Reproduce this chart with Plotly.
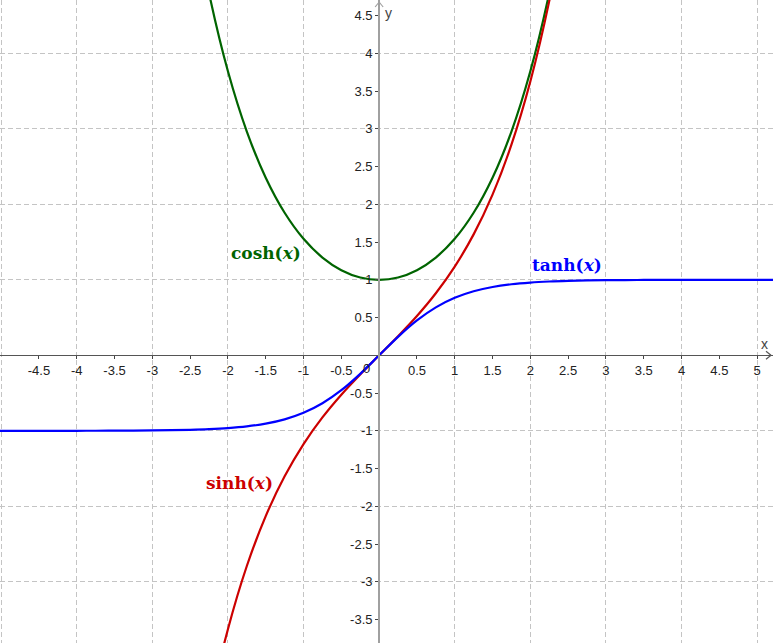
import plotly.graph_objects as go

# ---- data ----
x_cosh = [-2.5, -2.25, -2.0, -1.75, -1.5, -1.25, -1.0, -0.75, -0.5, -0.25, 0.0,
          0.25, 0.5, 0.75, 1.0, 1.25, 1.5, 1.75, 2.0, 2.25, 2.5]
y_cosh = [6.132, 4.797, 3.762, 2.964, 2.352, 1.888, 1.543, 1.295, 1.128, 1.031, 1.0,
          1.031, 1.128, 1.295, 1.543, 1.888, 2.352, 2.964, 3.762, 4.797, 6.132]

x_sinh = [-2.5, -2.25, -2.0, -1.75, -1.5, -1.25, -1.0, -0.75, -0.5, -0.25, 0.0,
          0.25, 0.5, 0.75, 1.0, 1.25, 1.5, 1.75, 2.0, 2.25, 2.5]
y_sinh = [-6.050, -4.691, -3.627, -2.790, -2.129, -1.602, -1.175, -0.822, -0.521, -0.253, 0.0,
          0.253, 0.521, 0.822, 1.175, 1.602, 2.129, 2.790, 3.627, 4.691, 6.050]

x_tanh = [-5.25, -5.0, -4.75, -4.5, -4.25, -4.0, -3.75, -3.5, -3.25, -3.0, -2.75, -2.5,
          -2.25, -2.0, -1.75, -1.5, -1.25, -1.0, -0.75, -0.5, -0.25, 0.0,
          0.25, 0.5, 0.75, 1.0, 1.25, 1.5, 1.75, 2.0, 2.25, 2.5, 2.75, 3.0,
          3.25, 3.5, 3.75, 4.0, 4.25, 4.5, 4.75, 5.0, 5.25]
y_tanh = [-1.0, -0.9999, -0.9999, -0.9998, -0.9996, -0.9993, -0.9989, -0.9982, -0.9970, -0.9951,
          -0.9919, -0.9866, -0.9780, -0.9640, -0.9414, -0.9051, -0.8483, -0.7616, -0.6351,
          -0.4621, -0.2449, 0.0,
          0.2449, 0.4621, 0.6351, 0.7616, 0.8483, 0.9051, 0.9414, 0.9640, 0.9780, 0.9866,
          0.9919, 0.9951, 0.9970, 0.9982, 0.9989, 0.9993, 0.9996, 0.9998, 0.9999, 0.9999, 1.0]

x_ticks = [-4.5, -4, -3.5, -3, -2.5, -2, -1.5, -1, -0.5, 0.5, 1, 1.5, 2, 2.5, 3, 3.5, 4, 4.5, 5]
x_tick_text = ["-4.5", "-4", "-3.5", "-3", "-2.5", "-2", "-1.5", "-1", "-0.5",
               "0.5", "1", "1.5", "2", "2.5", "3", "3.5", "4", "4.5", "5"]
y_ticks = [-3.5, -3, -2.5, -2, -1.5, -1, -0.5, 0.5, 1, 1.5, 2, 2.5, 3, 3.5, 4, 4.5]
y_tick_text = ["-3.5", "-3", "-2.5", "-2", "-1.5", "-1", "-0.5",
               "0.5", "1", "1.5", "2", "2.5", "3", "3.5", "4", "4.5"]

curve_names = ["cosh", "sinh", "tanh"]
curve_colors = ["#006400", "#cc0000", "#0000ff"]
label_text = ["cosh(<i>x</i>)", "sinh(<i>x</i>)", "tanh(<i>x</i>)"]
label_x = [-1.49, -1.85, 2.49]
label_y = [1.36, -1.69, 1.20]

x_range = [-5.015, 5.21]
y_range = [-3.81, 4.706]

# ---- figure ----
fig = go.Figure()
for xs, ys, name, col in zip([x_cosh, x_sinh, x_tanh], [y_cosh, y_sinh, y_tanh],
                             curve_names, curve_colors):
    fig.add_trace(go.Scatter(x=xs, y=ys, mode="lines", name=name,
                             line=dict(color=col, width=2.2, shape="spline", smoothing=1.0),
                             hoverinfo="skip", showlegend=False))

# invisible trace for the overlay axes
fig.add_trace(go.Scatter(x=[0], y=[0], xaxis="x2", yaxis="y2", mode="markers",
                         marker=dict(opacity=0), showlegend=False, hoverinfo="skip"))

xpos = (0 - x_range[0]) / (x_range[1] - x_range[0])
ypos = (0 - y_range[0]) / (y_range[1] - y_range[0])

tick_font = dict(family="Liberation Sans, Arial, sans-serif", size=13, color="#222222")
grid_dash = "5px,3px"

fig.update_layout(
    width=773, height=643,
    margin=dict(l=0, r=0, t=0, b=0, pad=0),
    paper_bgcolor="white", plot_bgcolor="white",
    xaxis=dict(range=x_range, dtick=1, tick0=0, showgrid=True, gridcolor="#c4c4c4",
               griddash=grid_dash, gridwidth=1.2, zeroline=False, showticklabels=False,
               showline=False, ticks="", fixedrange=True),
    yaxis=dict(range=y_range, dtick=1, tick0=0, showgrid=True, gridcolor="#c4c4c4",
               griddash=grid_dash, gridwidth=1.2, zeroline=False, showticklabels=False,
               showline=False, ticks="", fixedrange=True),
    xaxis2=dict(range=x_range, overlaying="x", anchor="free", position=ypos, side="bottom",
                tickvals=x_ticks, ticktext=x_tick_text, ticks="outside", ticklen=3,
                tickcolor="#444444", showline=True, linecolor="#555555", linewidth=1.3,
                showgrid=False, zeroline=False, tickfont=tick_font, fixedrange=True),
    yaxis2=dict(range=y_range, overlaying="y", anchor="free", position=xpos, side="left",
                tickvals=y_ticks, ticktext=y_tick_text, ticks="outside", ticklen=3,
                tickcolor="#444444", showline=True, linecolor="#a0a0a0", linewidth=2,
                showgrid=False, zeroline=False, tickfont=tick_font, fixedrange=True),
)

# curve labels
for txt, lx, ly, col in zip(label_text, label_x, label_y, curve_colors):
    fig.add_annotation(x=lx, y=ly, xref="x", yref="y", text="<b>" + txt + "</b>",
                       showarrow=False, font=dict(family="DejaVu Serif, serif", size=17, color=col))

# origin label and axis names
fig.add_annotation(x=0, y=0, xref="x", yref="y", text="0", showarrow=False,
                   xanchor="right", yanchor="top", xshift=-7, yshift=-4, font=tick_font)
fig.add_annotation(x=1, y=0, xref="paper", yref="y", text="x", showarrow=False,
                   xanchor="right", yanchor="bottom", xshift=-3, yshift=1,
                   font=dict(family="Liberation Sans, Arial, sans-serif", size=14, color="#444444"))
fig.add_annotation(x=0, y=1, xref="x", yref="paper", text="y", showarrow=False,
                   xanchor="left", yanchor="top", xshift=4, yshift=-3,
                   font=dict(family="Liberation Sans, Arial, sans-serif", size=14, color="#444444"))

# arrowheads on axes
arrow_line = dict(color="#555555", width=1.2)
for dy in (4, -4):
    fig.add_shape(type="line", xref="x", yref="y", xsizemode="pixel", ysizemode="pixel",
                  xanchor=x_range[1], yanchor=0, x0=-7, y0=dy, x1=-2, y1=0, line=arrow_line)
for dx in (4, -4):
    fig.add_shape(type="line", xref="x", yref="y", xsizemode="pixel", ysizemode="pixel",
                  xanchor=0, yanchor=y_range[1], x0=dx, y0=-7, x1=0, y1=-2,
                  line=dict(color="#a0a0a0", width=1.2))

fig.write_html("out.html", config={"displayModeBar": False},
               post_script="document.body.style.margin='0';document.body.style.overflow='hidden';")
